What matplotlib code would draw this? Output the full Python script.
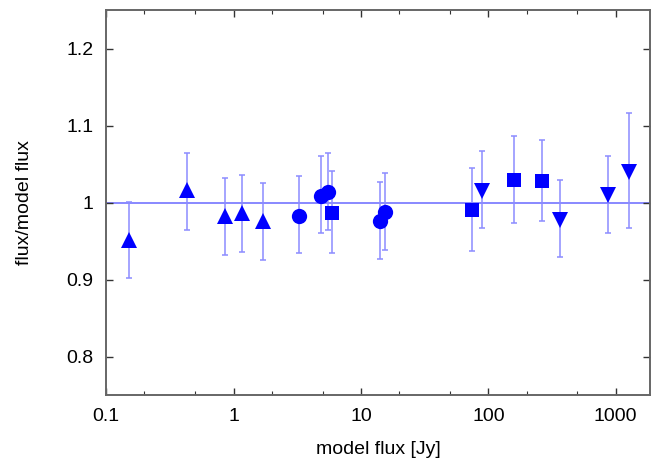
import matplotlib
matplotlib.use("Agg")
import matplotlib.pyplot as plt
import matplotlib.ticker as ticker

plt.rcParams['font.family'] = ['Liberation Sans', 'DejaVu Sans']

# triangles (up)
tri_x = [0.15, 0.43, 0.85, 1.17, 1.70]
tri_y = [0.952, 1.016, 0.983, 0.987, 0.976]
tri_lo = [0.902, 0.965, 0.932, 0.936, 0.925]
tri_hi = [1.001, 1.065, 1.032, 1.036, 1.025]

# circles
circ_x = [3.24, 4.85, 5.53, 14.1, 15.4]
circ_y = [0.983, 1.009, 1.014, 0.976, 0.988]
circ_lo = [0.934, 0.961, 0.965, 0.927, 0.938]
circ_hi = [1.035, 1.060, 1.065, 1.027, 1.038]

# squares
sq_x = [5.93, 74.6, 158, 263]
sq_y = [0.987, 0.9905, 1.029, 1.028]
sq_lo = [0.935, 0.937, 0.974, 0.976]
sq_hi = [1.041, 1.045, 1.087, 1.081]

# triangles (down)
dn_x = [88.9, 365, 870, 1276]
dn_y = [1.015, 0.978, 1.010, 1.040]
dn_lo = [0.967, 0.930, 0.961, 0.967]
dn_hi = [1.067, 1.030, 1.061, 1.117]

groups = [
    (tri_x, tri_y, tri_lo, tri_hi, '^', 11),
    (circ_x, circ_y, circ_lo, circ_hi, 'o', 11),
    (sq_x, sq_y, sq_lo, sq_hi, 's', 9.5),
    (dn_x, dn_y, dn_lo, dn_hi, 'v', 11),
]

fig = plt.figure(figsize=(6.55, 4.59), dpi=100)
ax = fig.add_axes([0.162, 0.139, 0.830, 0.839])

ax.axhline(1.0, color='#7f7fff', lw=1.3, zorder=1)

for xs, ys, lo, hi, mk, ms in groups:
    yerr = [[y - l for y, l in zip(ys, lo)], [h - y for y, h in zip(ys, hi)]]
    ax.errorbar(xs, ys, yerr=yerr, fmt='none', ecolor='#8c8cff', elinewidth=1.1,
                capsize=2.5, capthick=1.1, zorder=2)
    ax.plot(xs, ys, linestyle='none', marker=mk, ms=ms, color='#0000ff',
            markeredgewidth=0, zorder=3)

ax.set_xscale('log')
ax.set_xlim(0.1, 1850)
ax.set_ylim(0.75, 1.25)

ax.xaxis.set_major_locator(ticker.FixedLocator([0.1, 1, 10, 100, 1000]))
ax.xaxis.set_major_formatter(ticker.FixedFormatter(['0.1', '1', '10', '100', '1000']))
ax.xaxis.set_minor_locator(ticker.LogLocator(base=10, subs=[2, 5]))
ax.xaxis.set_minor_formatter(ticker.NullFormatter())
ax.set_yticks([0.8, 0.9, 1.0, 1.1, 1.2])
ax.set_yticklabels(['0.8', '0.9', '1', '1.1', '1.2'])

ax.tick_params(which='both', direction='in', top=True, right=True,
               labelsize=14, color='#333333')
ax.tick_params(which='major', length=5, width=1, pad=9)
ax.tick_params(which='minor', length=3, width=0.8)

for s in ax.spines.values():
    s.set_color('#666666')
    s.set_linewidth(1.4)

ax.set_xlabel('model flux [Jy]', fontsize=14, labelpad=12)
ax.set_ylabel('flux/model flux', fontsize=14, labelpad=24)

fig.savefig('out.png', dpi=100)
